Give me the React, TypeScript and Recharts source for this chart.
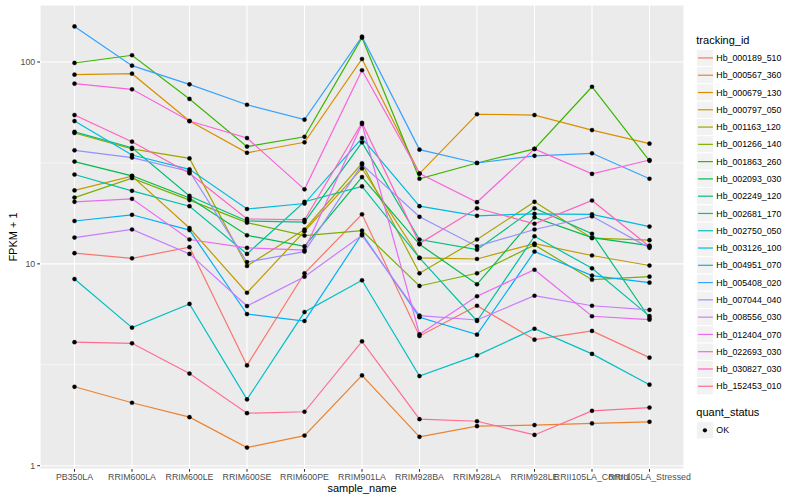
import React from 'react';
import { LineChart, Line, XAxis, YAxis, CartesianGrid } from 'recharts';

const samples = [
  'PB350LA', 'RRIM600LA', 'RRIM600LE', 'RRIM600SE', 'RRIM600PE', 'RRIM901LA',
  'RRIM928BA', 'RRIM928LA', 'RRIM928LE', 'RRII105LA_Control', 'RRII105LA_Stressed',
];

const trackingIds = [
  'Hb_000189_510', 'Hb_000567_360', 'Hb_000679_130', 'Hb_000797_050', 'Hb_001163_120',
  'Hb_001266_140', 'Hb_001863_260', 'Hb_002093_030', 'Hb_002249_120', 'Hb_002681_170',
  'Hb_002750_050', 'Hb_003126_100', 'Hb_004951_070', 'Hb_005408_020', 'Hb_007044_040',
  'Hb_008556_030', 'Hb_012404_070', 'Hb_022693_030', 'Hb_030827_030', 'Hb_152453_010',
];

const colors = [
  '#F8766D', '#EA8331', '#D89000', '#C09B00', '#A3A500', '#7CAE00', '#39B600', '#00BB4E',
  '#00BF7D', '#00C1A3', '#00BFC4', '#00BAE0', '#00B0F6', '#35A2FF', '#9590FF', '#C77CFF',
  '#E76BF3', '#FA62DB', '#FF62BC', '#FF6C91',
];

const hb000189_510 = [11.3, 10.65, 12.1, 3.14, 8.98, 17.6, 4.39, 6.2, 4.21, 4.65, 3.43];
const hb000567_360 = [2.46, 2.05, 1.74, 1.23, 1.41, 2.8, 1.39, 1.57, 1.59, 1.62, 1.65];
const hb000679_130 = [86.5, 87.5, 51.0, 35.5, 40.0, 103.5, 28.0, 55.1, 54.6, 46.0, 39.4];
const hb000797_050 = [23.1, 27.2, 15.05, 7.19, 14.5, 29.7, 10.7, 10.57, 12.6, 11.0, 9.81];
const hb001163_120 = [44.5, 37.1, 33.3, 9.76, 14.8, 31.5, 8.98, 13.2, 20.3, 13.4, 13.1];
const hb001266_140 = [21.3, 26.6, 20.7, 16.0, 13.8, 14.6, 7.77, 8.98, 12.4, 8.35, 8.64];
const hb001863_260 = [98.9, 108, 65.6, 38.1, 42.6, 132, 26.4, 31.6, 37.1, 75.4, 32.4];
const hb002093_030 = [32.1, 27.3, 21.2, 13.85, 12.2, 26.9, 12.5, 7.92, 17.0, 13.5, 12.3];
const hb002249_120 = [45.1, 37.6, 21.7, 16.3, 16.1, 40.0, 13.2, 11.75, 18.85, 14.1, 5.39];
const hb002681_170 = [27.7, 23.0, 19.3, 11.2, 20.3, 24.2, 10.7, 5.21, 13.7, 9.5, 5.51];
const hb002750_050 = [8.41, 4.83, 6.33, 2.13, 5.77, 8.29, 2.78, 3.52, 4.77, 3.58, 2.52];
const hb003126_100 = [51.0, 34.6, 29.4, 18.7, 19.9, 42.0, 19.3, 17.3, 17.7, 17.6, 15.3];
const hb004951_070 = [16.3, 17.5, 14.7, 5.64, 5.21, 14.05, 5.44, 4.46, 11.5, 8.74, 8.07];
const hb005408_020 = [150, 95.9, 77.5, 61.4, 51.8, 133.5, 36.8, 31.6, 34.3, 35.3, 26.4];
const hb007044_040 = [36.5, 33.6, 28.7, 10.2, 11.5, 31.0, 17.1, 12.2, 14.8, 17.2, 12.0];
const hb008556_030 = [13.5, 14.8, 11.2, 6.18, 8.64, 13.85, 5.54, 5.27, 6.95, 6.2, 5.91];
const hb012404_070 = [20.3, 21.0, 13.2, 12.0, 11.7, 49.3, 4.48, 6.91, 9.35, 5.5, 5.29];
const hb022693_030 = [78.1, 73.2, 51.0, 42.0, 23.4, 91.0, 28.0, 20.2, 37.1, 27.9, 32.7];
const hb030827_030 = [54.6, 40.3, 28.1, 16.7, 16.5, 50.0, 12.6, 18.85, 15.8, 20.6, 12.2];
const hb152453_010 = [4.09, 4.04, 2.86, 1.82, 1.85, 4.13, 1.70, 1.66, 1.42, 1.87, 1.94];

const seriesValues = [
  hb000189_510, hb000567_360, hb000679_130, hb000797_050, hb001163_120,
  hb001266_140, hb001863_260, hb002093_030, hb002249_120, hb002681_170,
  hb002750_050, hb003126_100, hb004951_070, hb005408_020, hb007044_040,
  hb008556_030, hb012404_070, hb022693_030, hb030827_030, hb152453_010,
];

const yTicks = [1, 10, 100];
const yMinor = [3.1623, 31.623];
const quantStatus = ['OK'];

const rows = samples.map((s, i) => {
  const r: Record<string, any> = { sample: s };
  trackingIds.forEach((id, k) => {
    r[id] = seriesValues[k][i];
  });
  return r;
});

const FONT = '"Liberation Sans", Arial, Helvetica, sans-serif';

export default function App() {
  const keyTop = 49.3;
  const keyStep = 17.28;
  return (
    <div style={{ position: 'absolute', left: 0, top: 0, width: 800, height: 500, background: '#fff', fontFamily: FONT }}>
      <LineChart width={800} height={500} data={rows} margin={{ top: 5, right: 116, bottom: 0, left: 0 }}>
        <CartesianGrid fill="#EBEBEB" stroke="#FFFFFF" strokeWidth={1.07} />
        <CartesianGrid fill="none" stroke="#FFFFFF" strokeWidth={0.53} vertical={false} horizontalValues={yMinor} />
        <XAxis
          dataKey="sample"
          type="category"
          height={31}
          interval={0}
          padding={{ left: 34.5, right: 34.5 }}
          axisLine={false}
          tickSize={2.75}
          tickMargin={2}
          tickLine={{ stroke: '#333333', strokeWidth: 1.07 }}
          tick={{ fill: '#4D4D4D', fontSize: 8.8, fontFamily: FONT }}
        />
        <YAxis
          scale="log"
          domain={[0.963, 191.6]}
          allowDataOverflow
          ticks={yTicks}
          width={40}
          axisLine={false}
          tickSize={2.75}
          tickMargin={2}
          tickLine={{ stroke: '#333333', strokeWidth: 1.07 }}
          tick={{ fill: '#4D4D4D', fontSize: 8.8, fontFamily: FONT }}
        />
        {trackingIds.map((id, k) => (
          <Line
            key={'l' + id}
            type="linear"
            dataKey={id}
            stroke={colors[k]}
            strokeWidth={1.2}
            dot={false}
            activeDot={false}
            isAnimationActive={false}
          />
        ))}
        {trackingIds.map((id) => (
          <Line
            key={'p' + id}
            type="linear"
            dataKey={id}
            stroke="none"
            dot={{ r: 2.1, fill: '#000000', stroke: '#000000', strokeWidth: 0.3 }}
            activeDot={false}
            isAnimationActive={false}
          />
        ))}
      </LineChart>
      <svg width={800} height={500} style={{ position: 'absolute', left: 0, top: 0, pointerEvents: 'none' }}>
        <text x={16.5} y={237} transform="rotate(-90 16.5 237)" textAnchor="middle" fontSize={11} fill="#000" fontFamily={FONT}>FPKM + 1</text>
        <text x={362} y={491.5} textAnchor="middle" fontSize={11} fill="#000" fontFamily={FONT}>sample_name</text>
        <text x={696.3} y={44} fontSize={11} fill="#000" fontFamily={FONT}>tracking_id</text>
        {trackingIds.map((id, k) => {
          const top = keyTop + k * keyStep;
          const cy = top + keyStep / 2;
          return (
            <g key={'lg' + id}>
              <rect x={696.3} y={top} width={keyStep} height={keyStep} fill="#F2F2F2" stroke="#FFFFFF" strokeWidth={1} />
              <line x1={698} x2={712.9} y1={cy} y2={cy} stroke={colors[k]} strokeWidth={1.2} />
              <text x={716.3} y={cy + 3.1} fontSize={8.8} fill="#000" fontFamily={FONT}>{id}</text>
            </g>
          );
        })}
        <text x={696.3} y={416} fontSize={11} fill="#000" fontFamily={FONT}>quant_status</text>
        {quantStatus.map((q, k) => {
          const top = 421.7 + k * keyStep;
          const cy = top + keyStep / 2;
          return (
            <g key={'qs' + q}>
              <rect x={696.3} y={top} width={keyStep} height={keyStep} fill="#F2F2F2" stroke="#FFFFFF" strokeWidth={1} />
              <circle cx={704.9} cy={cy} r={2.1} fill="#000" />
              <text x={716.3} y={cy + 3.1} fontSize={8.8} fill="#000" fontFamily={FONT}>{q}</text>
            </g>
          );
        })}
      </svg>
    </div>
  );
}
